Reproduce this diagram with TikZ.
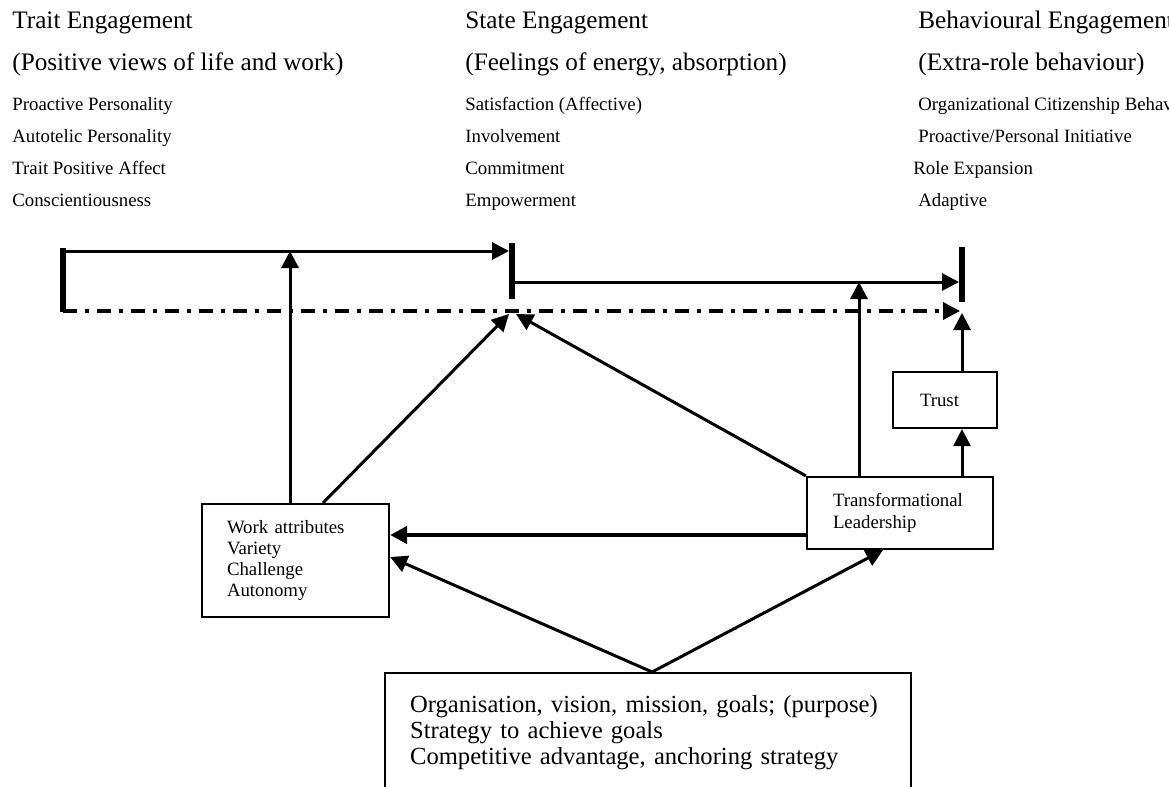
\documentclass[tikz,border=0pt]{standalone}
\usepackage{fontspec}
\setmainfont{Liberation Serif}
\usetikzlibrary{positioning}
\usetikzlibrary{arrows,arrows.meta}
\usetikzlibrary{calc}
\tikzstyle{block} = [draw, line width=1.1pt, rectangle, align=left, inner ysep=0pt, font=\fontsize{9.4}{11}\selectfont]
\tikzstyle{head} = [anchor=base west, inner sep=0pt, font=\fontsize{12.6}{15}\selectfont]
\tikzstyle{item} = [anchor=base west, inner sep=0pt, font=\fontsize{9.4}{11}\selectfont]
\tikzstyle{bar} = [line width=3.2pt]
\tikzstyle{flow} = [->, line width=1.5pt]
\tikzstyle{dashdot} = [dash pattern=on 7pt off 4pt on 2pt off 4pt, line width=1.8pt]

\begin{document}
\begin{tikzpicture}[x=0.5pt, y=-0.5pt, >={Triangle[length=8.5pt,width=8.5pt]}]
	\useasboundingbox (0,0) rectangle (1169,787);
	% headings
	\node [head] (trait) at (12,28) {Trait Engagement};
	\node [head] (traitsub) at (12,70) {(Positive views of life and work)};
	\node [item] (trait1) at (12,110) {Proactive Personality};
	\node [item] (trait2) at (12,142) {Autotelic Personality};
	\node [item] (trait3) at (12,174) {Trait Positive Affect};
	\node [item] (trait4) at (12,206) {Conscientiousness};

	\node [head] (state) at (465,28) {State Engagement};
	\node [head] (statesub) at (465,70) {(Feelings of energy, absorption)};
	\node [item] (state1) at (465,110) {Satisfaction (Affective)};
	\node [item] (state2) at (465,142) {Involvement};
	\node [item] (state3) at (465,174) {Commitment};
	\node [item] (state4) at (465,206) {Empowerment};

	\node [head] (behav) at (918,28) {Behavioural Engagement};
	\node [head] (behavsub) at (918,70) {(Extra-role behaviour)};
	\node [item] (behav1) at (918,110) {Organizational Citizenship Behaviour};
	\node [item] (behav2) at (918,142) {Proactive/Personal Initiative};
	\node [item] (behav3) at (913,174) {Role Expansion};
	\node [item] (behav4) at (918,206) {Adaptive};

	% boxes
	\node [block, text width=68.5pt, inner xsep=12.5pt, minimum height=56.5pt,
		font=\fontsize{9.4}{10.5}\selectfont] (work) at (295.5,560.5)
		{Work attributes\\Variety\\Challenge\\Autonomy};
	\node [block, text width=67pt, inner xsep=13pt, minimum height=36pt] (lead) at (900,513)
		{Transformational\\Leadership};
	\node [block, text width=25pt, inner xsep=13.5pt, minimum height=28pt] (trust) at (945,400)
		{Trust};
	\node [block, anchor=north west, text width=238pt, inner xsep=12.5pt, inner ysep=11.3pt,
		font=\fontsize{12.3}{13}\selectfont] (org) at (384,672)
		{Organisation, vision, mission, goals; (purpose)\\Strategy to achieve goals\\Competitive advantage, anchoring strategy};

	% bars and rails
	\coordinate (traitTop) at (63,248);
	\coordinate (traitBot) at (63,312);
	\coordinate (stateTop) at (512,243);
	\coordinate (stateBot) at (512,299);
	\coordinate (behavTop) at (962,247);
	\coordinate (behavBot) at (962,302);
	\coordinate (railA) at (63,251);
	\coordinate (railB) at (63,311);
	\coordinate (railC) at (512,282);
	\coordinate (stateIn) at (512,314);
	\coordinate (behavIn) at (962,313);

	\draw [bar] (traitTop) -- (traitBot);
	\draw [bar] (stateTop) -- (stateBot);
	\draw [bar] (behavTop) -- (behavBot);

	\draw [flow, shorten >=1.5pt] (railA) -- (railA -| stateTop);
	\draw [flow, shorten >=1.5pt] (railC) -- (railC -| behavTop);
	\draw [->, dashdot, shorten >=1pt] (railB) -- (railB -| behavTop);

	% links
	\draw [flow] ([xshift=-2.75pt]work.north) -- ([xshift=-2.75pt]work.north |- railA);
	\draw [flow] ([xshift=13.75pt]work.north) -- ([xshift=-1.5pt]stateIn);
	\draw [flow] (lead.north west) -- ([xshift=2pt]stateIn);
	\draw [flow] ([xshift=-20.5pt]lead.north) -- ([xshift=-20.5pt]lead.north |- railC);
	\draw [flow] (lead.north -| behavTop) -- (trust.south -| behavTop);
	\draw [flow] (trust.north -| behavTop) -- (behavIn);
	\draw [flow, line width=2.4pt] ([yshift=-11pt]lead.west) -- ([yshift=-11pt]lead.west -| work.east);
	\draw [flow] ([xshift=2pt]org.north) -- ([yshift=1.75pt]work.east);
	\draw [flow] ([xshift=2pt]org.north) -- ([xshift=-8.5pt]lead.south);
\end{tikzpicture}
\end{document}
